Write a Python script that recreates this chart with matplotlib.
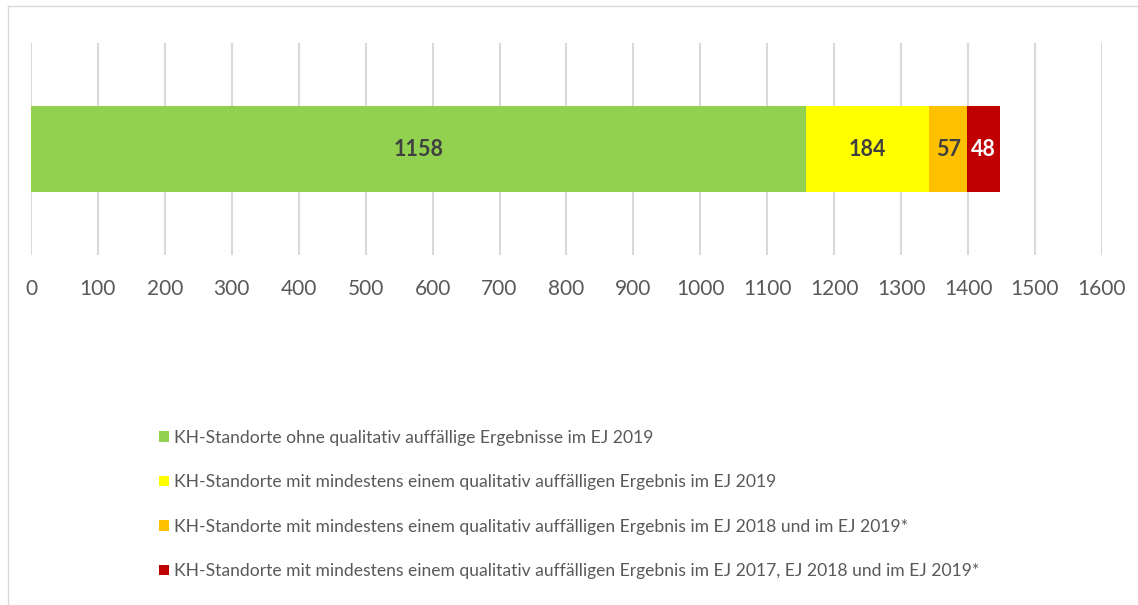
import matplotlib
matplotlib.use("Agg")
import matplotlib.pyplot as plt
from matplotlib.patches import Patch
from matplotlib.lines import Line2D

plt.rcParams['font.family'] = ['Lato', 'DejaVu Sans']

# Data
categories = [
    "KH-Standorte ohne qualitativ auffällige Ergebnisse im EJ 2019",
    "KH-Standorte mit mindestens einem qualitativ auffälligen Ergebnis im EJ 2019",
    "KH-Standorte mit mindestens einem qualitativ auffälligen Ergebnis im EJ 2018 und im EJ 2019*",
    "KH-Standorte mit mindestens einem qualitativ auffälligen Ergebnis im EJ 2017, EJ 2018 und im EJ 2019*",
]
values = [1158, 184, 57, 48]
colors = ["#92D050", "#FFFF00", "#FFC000", "#C00000"]
label_colors = ["#404040", "#404040", "#404040", "#FFFFFF"]
xticks = list(range(0, 1601, 100))

fig = plt.figure(figsize=(11.38, 6.05), dpi=100)
ax = fig.add_axes([0.0272, 0.5785, 0.9411, 0.3504])

left = 0
for val, col, lc in zip(values, colors, label_colors):
    ax.barh(0, val, left=left, height=0.81, color=col, zorder=3)
    ax.text(left + val / 2, 0, str(val), ha='center', va='center',
            fontsize=15.5, fontweight='bold', color=lc, zorder=4)
    left += val

ax.set_xlim(0, 1600)
ax.set_ylim(-1, 1)
ax.set_xticks(xticks)
ax.set_xticklabels([str(t) for t in xticks], fontsize=15, color="#595959")
ax.tick_params(axis='x', length=0, pad=17)
ax.set_yticks([])
ax.grid(axis='x', color="#D9D9D9", linewidth=1.5, zorder=0)
for s in ax.spines.values():
    s.set_visible(False)

# Legend below the plot
handles = [Patch(facecolor=c, edgecolor='none') for c in colors]
fig.legend(handles, categories, loc='upper left',
           bbox_to_anchor=(159 / 1138, 1 - 430 / 605),
           frameon=False, fontsize=12.6, labelcolor="#595959",
           handlelength=0.56, handleheight=0.56, handletextpad=0.28,
           labelspacing=1.62, borderpad=0, borderaxespad=0)

# Light outer frame
fig.add_artist(Line2D([8 / 1138, 1], [1 - 6 / 605, 1 - 6 / 605],
                      transform=fig.transFigure, color="#D9D9D9", linewidth=1))
fig.add_artist(Line2D([8 / 1138, 8 / 1138], [0, 1 - 6 / 605],
                      transform=fig.transFigure, color="#D9D9D9", linewidth=1))

fig.savefig("out.png", dpi=100, facecolor="white")
